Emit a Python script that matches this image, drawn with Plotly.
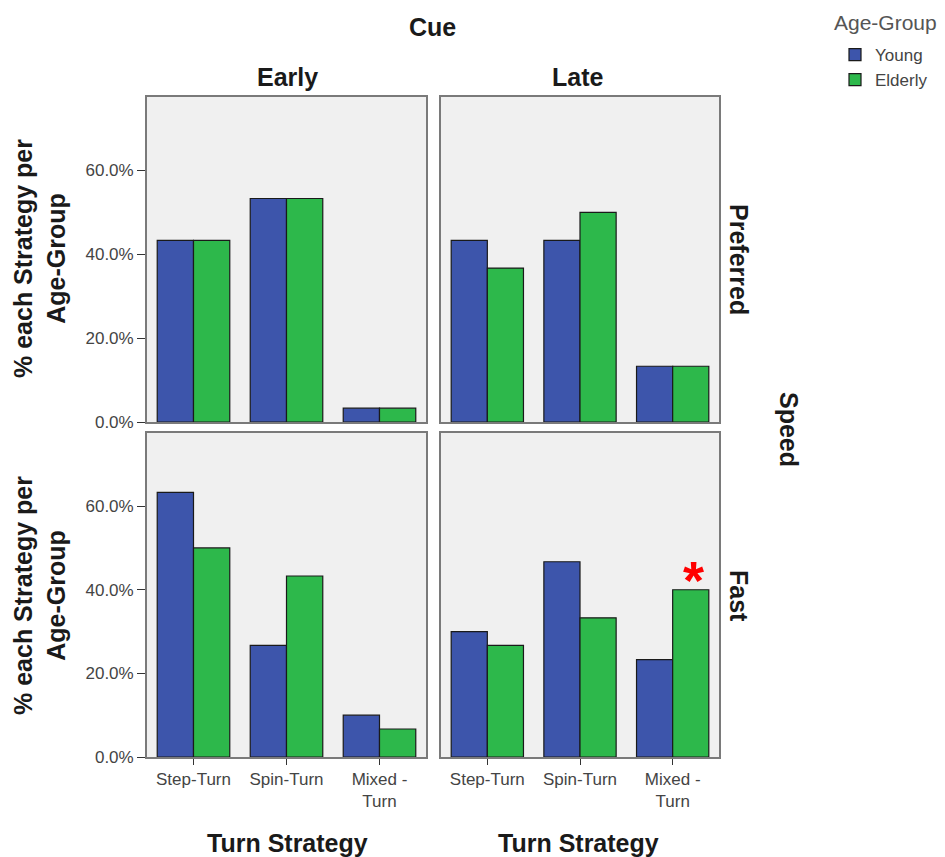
import plotly.graph_objects as go

categories = ["Step-Turn", "Spin-Turn", "Mixed -<br>Turn"]
groups = ["Young", "Elderly"]
cue_levels = ["Early", "Late"]
speed_levels = ["Preferred", "Fast"]

young_early_pref = [43.3, 53.3, 3.3]
elderly_early_pref = [43.3, 53.3, 3.3]
young_late_pref = [43.3, 43.3, 13.3]
elderly_late_pref = [36.7, 50.0, 13.3]
young_early_fast = [63.3, 26.7, 10.0]
elderly_early_fast = [50.0, 43.3, 6.7]
young_late_fast = [30.0, 46.7, 23.3]
elderly_late_fast = [26.7, 33.3, 40.0]

y_tickvals = [0, 20, 40, 60]
y_ticktext = ["0.0%", "20.0%", "40.0%", "60.0%"]

colors = {"Young": "#3D55AB", "Elderly": "#2DB84B"}
FONT = "Liberation Sans, Arial, sans-serif"

panels = [
    ("x", "y", young_early_pref, elderly_early_pref),
    ("x2", "y2", young_late_pref, elderly_late_pref),
    ("x3", "y3", young_early_fast, elderly_early_fast),
    ("x4", "y4", young_late_fast, elderly_late_fast),
]

fig = go.Figure()
for i, (xa, ya, yv, ev) in enumerate(panels):
    for g, vals in zip(groups, [yv, ev]):
        fig.add_trace(go.Bar(
            x=categories, y=vals, name=g, xaxis=xa, yaxis=ya,
            marker=dict(color=colors[g], line=dict(color="#1a1a1a", width=1.2)),
            showlegend=(i == 0), legendgroup=g,
        ))

W, H = 945, 857
L, R, T, B = 147, 226, 97, 100
pw = W - L - R
ph = H - T - B

def px_x(p):
    return (p - L) / pw

def px_y(p):
    return (H - B - p) / ph

xd_left = [0, px_x(426)]
xd_right = [px_x(441), 1]
yd_top = [px_y(422), 1]
yd_bot = [0, px_y(433)]

axis_common = dict(showline=True, mirror=True, linecolor="#7a7a7a", linewidth=1.8,
                   showgrid=False, zeroline=False)
TICKFONT = dict(family=FONT, size=17, color="#444")

def xaxis(domain, anchor, show_labels):
    return dict(domain=domain, anchor=anchor, **axis_common,
                showticklabels=show_labels,
                ticks="outside" if show_labels else "", ticklen=6, tickcolor="#333",
                tickfont=TICKFONT,
                categoryorder="array", categoryarray=categories)

def yaxis(domain, anchor, show_labels):
    return dict(domain=domain, anchor=anchor, **axis_common, range=[0, 77.5],
                tickvals=y_tickvals, ticktext=y_ticktext,
                showticklabels=show_labels,
                ticks="outside" if show_labels else "", ticklen=8, tickcolor="#333",
                tickfont=TICKFONT)

fig.update_layout(
    width=W, height=H,
    margin=dict(l=L, r=R, t=T, b=B),
    paper_bgcolor="white", plot_bgcolor="#F0F0F0",
    barmode="group", bargap=0.22, bargroupgap=0,
    font=dict(family=FONT),
    xaxis=xaxis(xd_left, "y", False),
    yaxis=yaxis(yd_top, "x", True),
    xaxis2=xaxis(xd_right, "y2", False),
    yaxis2=yaxis(yd_top, "x2", False),
    xaxis3=xaxis(xd_left, "y3", True),
    yaxis3=yaxis(yd_bot, "x3", True),
    xaxis4=xaxis(xd_right, "y4", True),
    yaxis4=yaxis(yd_bot, "x4", False),
    legend=dict(
        x=px_x(835), y=px_y(37), xanchor="left", yanchor="top",
        font=dict(family=FONT, size=17, color="#444"),
        bgcolor="rgba(0,0,0,0)", itemwidth=30, tracegroupgap=0,
    ),
)

ann = []
BOLD = dict(family=FONT, size=25, color="#1a1a1a")

def label(text, xp, yp, angle=0):
    return dict(text=text, x=px_x(xp), y=px_y(yp), xref="paper", yref="paper",
                xanchor="center", yanchor="middle", showarrow=False,
                textangle=angle, font=BOLD)

ann.append(label("<b>Cue</b>", 432, 27))
for lvl, cx in zip(cue_levels, [287, 578]):
    ann.append(label("<b>%s</b>" % lvl, cx, 77))
    ann.append(label("<b>Turn Strategy</b>", cx, 843))
for lvl, cy in zip(speed_levels, [259, 596]):
    ann.append(label("<b>%s</b>" % lvl, 739, cy, 90))
    ann.append(label("<b>% each Strategy per<br>Age-Group</b>", 39, cy, -90))
ann.append(label("<b>Speed</b>", 789, 429, 90))
ann.append(dict(text="Age-Group", x=px_x(832), y=px_y(22), xref="paper", yref="paper",
                xanchor="left", yanchor="middle", showarrow=False,
                font=dict(family=FONT, size=21, color="#555")))
ann.append(dict(text="<b>*</b>", x=categories[2], y=elderly_late_fast[2], xref="x4", yref="y4",
                xshift=21, yshift=-22, yanchor="bottom", xanchor="center", showarrow=False,
                font=dict(family=FONT, size=54, color="#FF0000")))
fig.update_layout(annotations=ann)

fig.write_html("out.html")
